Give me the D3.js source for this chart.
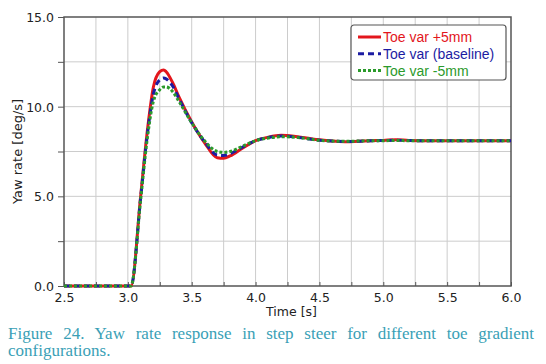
<!DOCTYPE html>
<html>
<head>
<meta charset="utf-8">
<script src="https://cdn.jsdelivr.net/npm/d3@7"></script>
<style>
  body { margin: 0; background: #fff; }
  #wrap { position: relative; width: 546px; height: 364px; }
  #caption {
    position: absolute; left: 8px; top: 325px; width: 526px;
    font-family: "Liberation Serif", serif; font-size: 17px; line-height: 17px;
    color: #3a9fb6; text-align: justify;
  }
</style>
</head>
<body>
<div id="wrap">
  <svg id="chart"></svg>
  <div id="caption">Figure 24. Yaw rate response in step steer for different toe gradient configurations.</div>
</div>
<script>
// values
var time = [2.5, 3.0, 3.025, 3.1, 3.15, 3.2, 3.25, 3.28, 3.3, 3.35, 3.4, 3.5, 3.6, 3.7, 3.75, 3.8, 3.9, 4.0, 4.1, 4.2, 4.3, 4.4, 4.5, 4.6, 4.7, 4.8, 4.9, 5.0, 5.1, 5.2, 5.4, 5.6, 6.0];
var toePlus =  [0, 0, 0, 5.0, 8.5, 11.1, 11.95, 12.05, 11.95, 11.35, 10.55, 9.15, 8.0, 7.15, 7.12, 7.25, 7.7, 8.1, 8.3, 8.4, 8.35, 8.25, 8.15, 8.08, 8.05, 8.07, 8.1, 8.12, 8.16, 8.12, 8.1, 8.1, 8.1];
var toeBase =  [0, 0, 0, 4.9, 8.3, 10.7, 11.5, 11.6, 11.55, 11.15, 10.45, 9.1, 8.05, 7.3, 7.28, 7.38, 7.75, 8.1, 8.28, 8.36, 8.32, 8.22, 8.13, 8.08, 8.06, 8.07, 8.1, 8.11, 8.13, 8.11, 8.1, 8.1, 8.1];
var toeMinus = [0, 0, 0, 4.8, 8.1, 10.3, 10.95, 11.1, 11.1, 10.85, 10.3, 9.1, 8.1, 7.5, 7.45, 7.5, 7.8, 8.1, 8.25, 8.32, 8.3, 8.22, 8.13, 8.08, 8.07, 8.08, 8.1, 8.1, 8.12, 8.1, 8.1, 8.1, 8.1];
var seriesNames = ["Toe var +5mm", "Toe var (baseline)", "Toe var -5mm"];
var seriesColors = ["#e3161c", "#1c1ca2", "#2b9a2b"];
var seriesDash = [null, "6,4", "3,2"];
var xTicks = [2.5, 3.0, 3.5, 4.0, 4.5, 5.0, 5.5, 6.0];
var yTicks = [0, 5, 10, 15];

var svgWidth = 546, svgHeight = 364;
var margin = { top: 17, right: 35, bottom: 78, left: 64 };
var width = svgWidth - margin.left - margin.right;
var height = svgHeight - margin.top - margin.bottom;

var svg = d3.select("#chart")
    .attr("width", svgWidth)
    .attr("height", svgHeight)
    .style("position", "absolute").style("left", 0).style("top", 0);

var g = svg.append("g")
    .attr("transform", "translate(" + margin.left + "," + margin.top + ")");

var x = d3.scaleLinear().domain([2.5, 6.0]).range([0, width]);
var y = d3.scaleLinear().domain([0, 15]).range([height, 0]);

function isMajor(list, d) {
    return list.some(function(t) { return Math.abs(t - d) < 1e-6; });
}

// grid, every 0.25 s and 2.5 deg/s
g.append("g")
    .selectAll("line")
    .data(d3.range(2.75, 6.0, 0.25))
    .join("line")
    .attr("x1", function(d) { return x(d); })
    .attr("x2", function(d) { return x(d); })
    .attr("y1", 0).attr("y2", height)
    .attr("stroke", "#cccccc");
g.append("g")
    .selectAll("line")
    .data(d3.range(2.5, 15, 2.5))
    .join("line")
    .attr("y1", function(d) { return y(d); })
    .attr("y2", function(d) { return y(d); })
    .attr("x1", 0).attr("x2", width)
    .attr("stroke", "#cccccc");

// axes
var xAxis = g.append("g")
    .attr("transform", "translate(0," + height + ")")
    .call(d3.axisBottom(x).tickValues(d3.range(2.5, 6.01, 0.25)).tickSizeInner(-4).tickSizeOuter(0)
        .tickFormat(function(d) { return isMajor(xTicks, d) ? d3.format(".1f")(d) : ""; }));
var yAxis = g.append("g")
    .call(d3.axisLeft(y).tickValues(d3.range(0, 15.01, 2.5)).tickSizeInner(6).tickSizeOuter(0)
        .tickFormat(function(d) { return isMajor(yTicks, d) ? d3.format(".1f")(d) : ""; }));

[xAxis, yAxis].forEach(function(a) {
    a.select(".domain").remove();
    a.selectAll(".tick line").attr("stroke", "#555");
    a.selectAll("text")
        .attr("fill", "#222")
        .style("font-family", "'DejaVu Sans', sans-serif")
        .style("font-size", "12.5px");
});
xAxis.selectAll("text").attr("dy", "1.05em");
yAxis.selectAll("text").attr("dy", "0.35em").attr("x", -10);

// frame
g.append("rect")
    .attr("width", width).attr("height", height)
    .attr("fill", "none").attr("stroke", "#555").attr("stroke-width", 1.5);

// series
var allSeries = [toePlus, toeBase, toeMinus];
var line = d3.line()
    .x(function(d, i) { return x(time[i]); })
    .y(function(d) { return y(d); })
    .curve(d3.curveMonotoneX);

allSeries.forEach(function(s, i) {
    g.append("path")
        .datum(s)
        .attr("fill", "none")
        .attr("stroke", seriesColors[i])
        .attr("stroke-width", 3)
        .attr("stroke-dasharray", seriesDash[i])
        .attr("d", line);
});

// axis titles
g.append("text")
    .attr("x", x(4.25) + 4)
    .attr("y", height + 30)
    .attr("text-anchor", "middle")
    .attr("fill", "#222")
    .style("font-family", "'DejaVu Sans', sans-serif")
    .style("font-size", "12.5px")
    .text("Time [s]");
g.append("text")
    .attr("transform", "translate(-42," + y(7.5) + ") rotate(-90)")
    .attr("text-anchor", "middle")
    .attr("fill", "#222")
    .style("font-family", "'DejaVu Sans', sans-serif")
    .style("font-size", "13px")
    .text("Yaw rate [deg/s]");

// legend
var legend = g.append("g").attr("transform", "translate(" + (width - 160) + ",8)");
legend.append("rect")
    .attr("width", 155).attr("height", 55)
    .attr("rx", 3)
    .attr("fill", "#fff").attr("stroke", "#555").attr("stroke-width", 1.2);
seriesNames.forEach(function(name, i) {
    var row = legend.append("g").attr("transform", "translate(7," + (12 + i * 16.8) + ")");
    row.append("line")
        .attr("x1", 0).attr("x2", 23)
        .attr("stroke", seriesColors[i])
        .attr("stroke-width", 3)
        .attr("stroke-dasharray", seriesDash[i]);
    row.append("text")
        .attr("x", 25).attr("dy", "0.36em")
        .attr("fill", seriesColors[i])
        .style("font-family", "'Liberation Sans', sans-serif")
        .style("font-size", "14px")
        .text(name);
});
</script>
</body>
</html>
